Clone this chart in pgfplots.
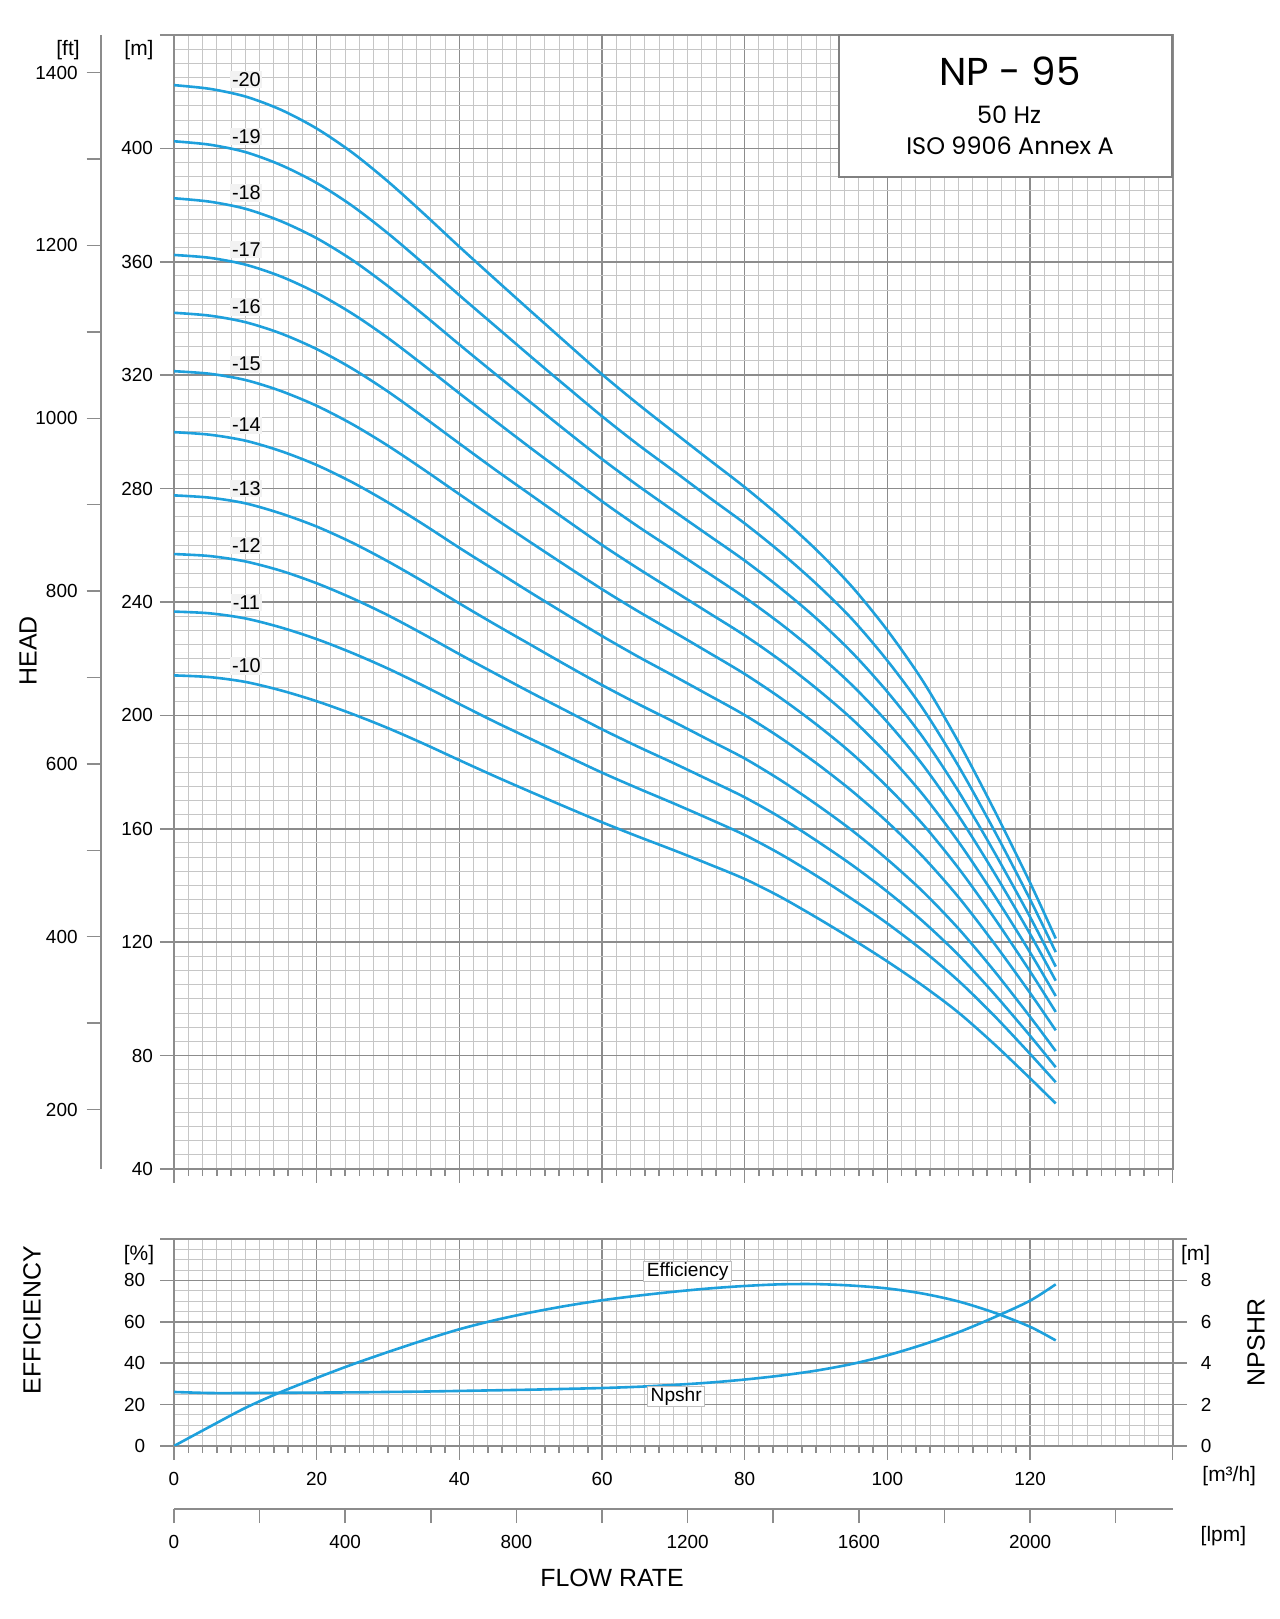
\documentclass[border=0pt]{standalone}
\usepackage{pgfplots}
\usepackage{pgfplotstable}
\pgfplotsset{compat=1.18}
\usepackage{fontspec}
\setmainfont{Liberation Sans}
\newfontfamily\boxfont{Poppins}
\definecolor{curve}{RGB}{30,160,220}
\definecolor{majgrid}{RGB}{140,140,140}
\definecolor{mingrid}{RGB}{198,198,198}
\newcommand{\tickfont}{\fontsize{9.5}{11}\selectfont}
\newcommand{\titlefont}{\fontsize{12.5}{14}\selectfont}
\newcommand{\unitfont}{\fontsize{10.5}{12}\selectfont}
\tikzset{
  stagelabel/.style={font=\fontsize{10}{11}\selectfont, fill=black!5, inner sep=0.8bp},
  curvelabel/.style={font=\fontsize{9.6}{11}\selectfont, fill=white, draw=black!25, line width=0.4bp, inner xsep=1.5bp, inner ysep=0.6bp},
}
\pgfplotsset{
  gridax/.style={scale only axis, anchor=south west, grid=both,
    major grid style={draw=majgrid, line width=0.75bp},
    minor grid style={draw=mingrid, line width=0.5bp},
    axis line style={draw=majgrid, line width=0.9bp},
    major tick length=0pt, minor tick length=0pt,
    xticklabels={}, yticklabels={}},
  tickax/.style={scale only axis, anchor=south west,
    axis line style={draw=none},
    tick align=outside,
    major tick length=7bp, minor tick length=3.5bp,
    tick style={draw=majgrid, line width=0.75bp},
    ticklabel style={font=\tickfont},
    /pgf/number format/assume math mode=true,
    /pgf/number format/1000 sep={}},
  hcurve/.style={draw=curve, line width=1.3bp, smooth, no markers},
}
\pgfplotstableread{
Q h10 h11 h12 h13 h14 h15 h16 h17 h18 h19 h20
0 214.1 236.6 256.9 277.6 299.9 321.4 342.0 362.4 382.4 402.5 422.3
5 213.5 236.0 256.2 276.8 299.0 320.5 341.0 361.4 381.2 401.3 421.0
10 211.8 234.2 254.3 274.8 296.9 318.3 338.7 359.0 378.7 398.7 418.3
15 208.8 231.0 251.0 271.2 293.2 314.4 334.7 354.8 374.3 394.1 413.6
20 205.0 226.9 246.6 266.6 288.3 309.2 329.2 349.0 368.3 387.8 407.0
25 200.5 222.0 241.3 260.9 282.2 302.7 322.3 341.7 360.6 379.7 398.5
30 195.5 216.5 235.3 254.3 275.1 295.1 314.2 333.1 351.4 370.0 388.3
35 190.0 210.4 228.6 247.1 267.3 286.7 305.2 323.5 341.3 359.3 377.0
40 184.2 204.0 221.6 239.5 259.1 278.0 295.9 313.6 330.8 348.2 365.3
45 178.5 197.7 214.8 232.1 251.2 269.4 286.7 303.9 320.5 337.4 353.9
50 173.0 191.7 208.1 224.9 243.3 261.0 277.8 294.3 310.4 326.6 342.6
55 167.6 185.7 201.6 217.7 235.6 252.7 268.9 284.9 300.3 316.0 331.4
60 162.3 179.8 195.1 210.7 228.0 244.5 260.1 275.5 290.4 305.5 320.3
65 157.3 174.3 189.0 204.1 220.8 236.8 251.9 266.7 281.1 295.6 309.9
70 152.5 169.0 183.2 197.8 214.0 229.5 244.0 258.4 272.2 286.3 300.0
75 147.5 163.5 177.2 191.3 207.1 222.1 236.1 250.0 263.4 276.9 290.2
80 142.3 157.8 171.1 184.8 200.1 214.6 228.2 241.6 254.6 267.7 280.5
85 136.0 151.1 164.0 177.2 192.1 206.2 219.4 232.4 244.9 257.6 270.0
90 128.8 143.5 155.9 168.7 183.2 196.9 209.6 222.2 234.3 246.5 258.5
95 121.2 135.3 147.3 159.5 173.4 186.6 198.8 210.8 222.3 234.1 245.5
100 113.2 126.6 137.8 149.2 162.4 174.8 186.3 197.6 208.3 219.3 230.0
105 104.6 117.0 127.3 137.8 150.1 161.5 172.0 182.4 192.2 202.3 212.0
110 95.1 106.3 115.4 124.7 135.8 146.0 155.3 164.5 173.1 182.0 190.5
115 84.0 94.0 101.7 109.8 119.5 128.5 136.5 144.4 151.7 159.3 166.5
120 72.0 80.6 87.0 93.7 102.1 109.7 116.4 122.9 128.9 135.1 141.0
123.6 63.1 70.6 75.9 81.6 88.9 95.4 101.0 106.4 111.4 116.5 121.3
}\headtable
\begin{document}
\begin{tikzpicture}[x=1bp,y=1bp]
\path (0,0) rectangle (640,809.5);
% ---------- main head chart: grid + curves ----------
\begin{axis}[gridax, at={(87bp,225bp)}, width=499.35bp, height=567bp,
  xmin=0, xmax=140, ymin=40, ymax=440,
  xtick={0,20,...,140}, minor x tick num=9,
  ytick={40,80,...,440}, minor y tick num=7]
\foreach \n in {10,...,20}{
  \addplot[hcurve] table[x=Q, y=h\n] {\headtable};
}
\node[stagelabel] at (axis cs:10.15,424.4) {-20};
\node[stagelabel] at (axis cs:10.15,404.3) {-19};
\node[stagelabel] at (axis cs:10.15,384.3) {-18};
\node[stagelabel] at (axis cs:10.15,364.4) {-17};
\node[stagelabel] at (axis cs:10.15,344.1) {-16};
\node[stagelabel] at (axis cs:10.15,323.9) {-15};
\node[stagelabel] at (axis cs:10.15,302.4) {-14};
\node[stagelabel] at (axis cs:10.15,280.0) {-13};
\node[stagelabel] at (axis cs:10.15,260.0) {-12};
\node[stagelabel] at (axis cs:10.15,239.8) {-11};
\node[stagelabel] at (axis cs:10.15,217.4) {-10};
\end{axis}
% ---------- main head chart: ticks ----------
\begin{axis}[tickax, at={(87bp,225bp)}, width=499.35bp, height=567bp,
  xmin=0, xmax=140, ymin=40, ymax=440,
  xtick pos=bottom, ytick pos=left,
  xtick={0,20,...,140}, minor x tick num=9, xticklabels={},
  ytick={40,80,...,400}, extra y ticks={440}, extra y tick labels={}]
\end{axis}
% ---------- feet axis ----------
\begin{axis}[tickax, at={(50.35bp,225bp)}, width=0.1bp, height=567bp,
  separate axis lines,
  y axis line style={draw=majgrid, line width=0.9bp},
  x axis line style={draw=none},
  xmin=0, xmax=1, ymin=131.234, ymax=1443.57,
  xtick=\empty, ytick pos=left,
  ytick={200,400,...,1400}, minor ytick={300,500,...,1300},
  minor tick length=7bp,
  yticklabel style={xshift=-1bp}]
\end{axis}
% ---------- lower chart: grid + efficiency ----------
\begin{axis}[gridax, at={(87bp,86.5bp)}, width=499.35bp, height=103.5bp,
  xmin=0, xmax=140, ymin=0, ymax=100,
  xtick={0,20,...,140}, minor x tick num=9,
  ytick={0,20,...,100}, minor y tick num=3]
\addplot[hcurve] coordinates {(0,0) (5,9.3) (10,18.4) (15,26.1) (20,32.9) (25,39.4) (30,45.4) (35,51.1) (40,56.4) (45,60.8) (50,64.5) (55,67.7) (60,70.4) (65,72.6) (70,74.5) (75,76.1) (80,77.3) (85,78.1) (90,78.2) (95,77.5) (100,76.1) (105,73.6) (110,69.8) (115,64.4) (120,57.6) (123.6,51.0)};
\node[curvelabel] at (axis cs:72.0,84.5) {Efficiency};
\end{axis}
% ---------- lower chart: left/bottom ticks ----------
\begin{axis}[tickax, at={(87bp,86.5bp)}, width=499.35bp, height=103.5bp,
  xmin=0, xmax=140, ymin=0, ymax=100,
  xtick pos=bottom, ytick pos=left,
  xtick={0,20,...,120}, extra x ticks={140}, extra x tick labels={},
  minor x tick num=9,
  ytick={0,20,...,80}, extra y ticks={100}, extra y tick labels={},
  xticklabel style={yshift=-2.4bp},
  yticklabel style={xshift=-3.9bp}]
\end{axis}
% ---------- lower chart: NPSHR right axis ----------
\begin{axis}[tickax, at={(87bp,86.5bp)}, width=499.35bp, height=103.5bp,
  xmin=0, xmax=140, ymin=0, ymax=10,
  xtick=\empty, ytick pos=right, yticklabel pos=right,
  ytick={0,2,...,8}, extra y ticks={10}, extra y tick labels={},
  yticklabel style={xshift=3.5bp}]
\addplot[hcurve] coordinates {(0,2.61) (5,2.56) (10,2.56) (15,2.57) (20,2.58) (25,2.59) (30,2.61) (35,2.63) (40,2.66) (45,2.69) (50,2.72) (55,2.76) (60,2.80) (65,2.86) (70,2.95) (75,3.06) (80,3.21) (85,3.40) (90,3.64) (95,3.96) (100,4.38) (105,4.90) (110,5.50) (115,6.22) (120,7.02) (123.6,7.81)};
\node[curvelabel] at (axis cs:70.4,2.40) {Npshr};
\end{axis}
% ---------- lpm axis ----------
\begin{axis}[tickax, at={(87bp,55bp)}, width=499.35bp, height=0.1bp,
  separate axis lines,
  x axis line style={draw=majgrid, line width=0.9bp},
  y axis line style={draw=none},
  xmin=0, xmax=2333.333, ymin=0, ymax=1,
  ytick=\empty, xtick pos=bottom,
  xtick={0,400,...,2000}, minor xtick={200,600,...,2200},
  minor tick length=7bp,
  xticklabel style={yshift=-2.75bp}]
\end{axis}
% ---------- texts ----------
\node[font=\unitfont] at (34,784.5) {[ft]};
\node[font=\unitfont] at (69.5,784.5) {[m]};
\node[font=\unitfont] at (69.5,182) {[\%]};
\node[font=\unitfont] at (597.8,182) {[m]};
\node[font=\unitfont] at (614.6,71.5) {[m³/h]};
\node[font=\unitfont] at (611.7,41.5) {[lpm]};
\node[font=\titlefont, rotate=90] at (14,484) {HEAD};
\node[font=\titlefont, rotate=90] at (16,149.5) {EFFICIENCY};
\node[font=\titlefont, rotate=90] at (628,138.25) {NPSHR};
\node[font=\titlefont] at (306,20.75) {FLOW RATE};
% ---------- title box ----------
\draw[draw=black!50, line width=1bp, fill=white] (419.5,721.15) rectangle (585.85,792);
\node[font=\boxfont\fontsize{19.5}{22}\selectfont] at (505,773.9) {NP - 95};
\node[font=\boxfont\fontsize{12}{14}\selectfont] at (504.5,752) {50 Hz};
\node[font=\boxfont\fontsize{12}{14}\selectfont] at (505,736.5) {ISO 9906 Annex A};
\end{tikzpicture}
\end{document}
